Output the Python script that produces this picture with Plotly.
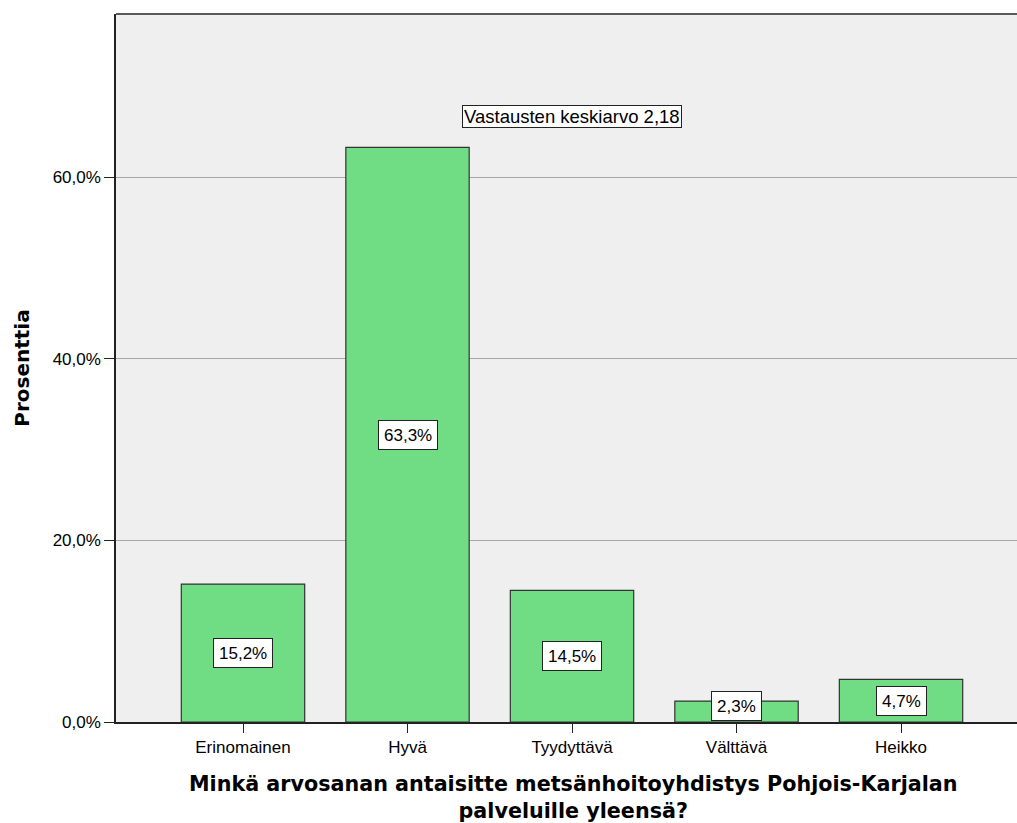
import plotly.graph_objects as go

categories = ["Erinomainen", "Hyvä", "Tyydyttävä", "Välttävä", "Heikko"]
percentages = [15.2, 63.3, 14.5, 2.3, 4.7]
y_ticks = [0, 20, 40, 60]
y_tick_labels = ["0,0%", "20,0%", "40,0%", "60,0%"]
mean_label = "Vastausten keskiarvo 2,18"
mean_label_category = "Tyydyttävä"
mean_label_y = 66.7
x_title_lines = ["Minkä arvosanan antaisitte metsänhoitoyhdistys Pohjois-Karjalan",
                 "palveluille yleensä?"]
y_title = "Prosenttia"

def fmt(v):
    return f"{v:.1f}".replace(".", ",") + "%"

TXT = "Liberation Sans, Arial"
BOLD = "DejaVu Sans, Verdana"

W, H = 1017, 823
ML, MR, MT, MB = 116, 0, 14, 101
Y_MAX = 78
plot_h = H - MT - MB
px_per_unit = plot_h / Y_MAX

fig = go.Figure()
fig.add_trace(go.Bar(
    x=list(range(len(categories))),
    y=percentages,
    width=0.75,
    marker=dict(color="#70dc84", line=dict(color="#333333", width=1.2)),
    hoverinfo="skip",
))

for i, v in enumerate(percentages):
    shift = max(0.0, 16 - (v / 2) * px_per_unit)
    fig.add_annotation(
        x=i, y=v / 2, text=fmt(v), showarrow=False, yshift=shift,
        bgcolor="white", bordercolor="#222222", borderwidth=1, borderpad=5,
        height=18,
        font=dict(family=TXT, size=17, color="black"),
    )

fig.add_annotation(
    x=categories.index(mean_label_category), y=mean_label_y, text=mean_label,
    showarrow=False, bgcolor="white", bordercolor="#222222", borderwidth=1, borderpad=1,
    height=19,
    font=dict(family=TXT, size=18.5, color="black"),
)

# two-line x-axis title (single text block)
fig.add_annotation(
    xref="paper", yref="paper", x=0.507, y=0, yanchor="middle",
    yshift=-(797.5 - (H - MB)),
    text="<br>".join("<b>" + line + "</b>" for line in x_title_lines),
    showarrow=False,
    font=dict(family=BOLD, size=20.7, color="black"),
)

fig.add_shape(type="line", xref="paper", yref="paper", x0=0, x1=1, y0=1, y1=1,
              line=dict(color="#5a5a5a", width=2))

fig.update_layout(
    width=W, height=H,
    margin=dict(l=ML, r=MR, t=MT, b=MB),
    paper_bgcolor="white",
    plot_bgcolor="#efefef",
    showlegend=False,
    font=dict(family=TXT, size=17, color="black"),
    xaxis=dict(
        range=[-0.772, 4.705],
        tickvals=list(range(len(categories))),
        ticktext=categories,
        showgrid=False, zeroline=False,
        showline=True, linecolor="#222222", linewidth=1.5,
        ticks="outside", ticklen=9, tickcolor="#222222",
        tickfont=dict(size=17),
    ),
    yaxis=dict(
        range=[0, Y_MAX],
        tickvals=y_ticks, ticktext=y_tick_labels,
        showgrid=True, gridcolor="#a8a8a8", gridwidth=1,
        zeroline=False,
        showline=True, linecolor="#222222", linewidth=1.5,
        ticks="outside", ticklen=10, tickcolor="#222222",
        tickfont=dict(size=17),
        title=dict(text=y_title, standoff=18,
                   font=dict(family=BOLD, size=20, color="black", weight="bold")),
    ),
)

fig.write_html("out.html", config={"displayModeBar": False},
               post_script="document.body.style.margin='0';document.body.style.overflow='hidden';")
